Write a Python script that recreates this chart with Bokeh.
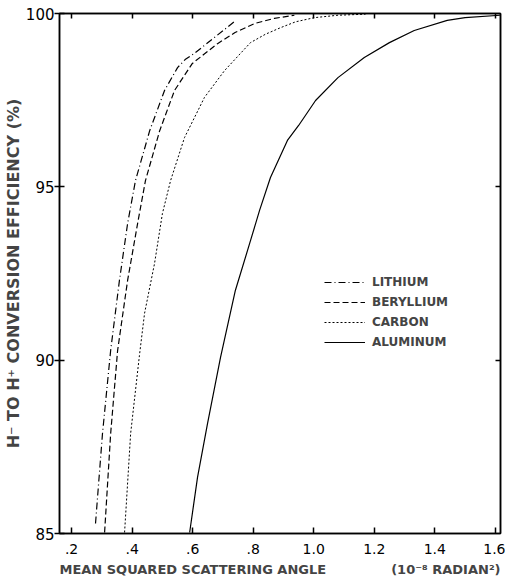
from bokeh.plotting import figure
from bokeh.models import LinearAxis, Range1d, Legend, LegendItem, FixedTicker
from bokeh.embed import file_html
from bokeh.resources import INLINE

# ---- data ----
lithium_x = [0.279, 0.302, 0.329, 0.358, 0.385, 0.411, 0.458, 0.507, 0.550, 0.575, 0.606, 0.672, 0.740]
lithium_y = [85.29, 87.88, 90.28, 92.30, 93.94, 95.18, 96.62, 97.78, 98.44, 98.67, 98.85, 99.31, 99.78]

beryllium_x = [0.309, 0.329, 0.352, 0.385, 0.418, 0.444, 0.491, 0.540, 0.599, 0.682, 0.740, 0.804, 0.870, 0.936]
beryllium_y = [85.03, 87.88, 90.28, 92.30, 93.94, 95.18, 96.62, 97.78, 98.56, 99.13, 99.45, 99.71, 99.86, 99.95]

carbon_x = [0.375, 0.395, 0.424, 0.441, 0.474, 0.500, 0.527, 0.573, 0.639, 0.705, 0.791, 0.840, 0.890, 0.940, 1.002, 1.080, 1.171]
carbon_y = [85.03, 87.88, 90.13, 91.35, 92.79, 94.23, 95.18, 96.42, 97.58, 98.35, 99.16, 99.40, 99.59, 99.76, 99.88, 99.95, 99.98]

aluminum_x = [0.590, 0.616, 0.649, 0.692, 0.741, 0.788, 0.821, 0.857, 0.913, 0.950, 1.006, 1.080, 1.167, 1.250, 1.332, 1.441, 1.500, 1.615]
aluminum_y = [85.03, 86.62, 88.17, 90.08, 92.01, 93.36, 94.32, 95.27, 96.34, 96.77, 97.49, 98.15, 98.73, 99.16, 99.51, 99.80, 99.88, 99.95]

series_names = ["LITHIUM", "BERYLLIUM", "CARBON", "ALUMINUM"]

x_ticks = [0.2, 0.4, 0.6, 0.8, 1.0, 1.2, 1.4, 1.6]
x_tick_labels = [".2", ".4", ".6", ".8", "1.0", "1.2", "1.4", "1.6"]
y_ticks = [85, 90, 95, 100]
y_tick_labels = ["85", "90", "95", "100"]

x_title = ("MEAN SQUARED SCATTERING ANGLE" + "\u2003" * 5
           + "(10\u207b\u2078 RADIAN\u00b2)")
y_title = "H\u207b TO H\u207a CONVERSION EFFICIENCY (%)"

FONT = "DejaVu Sans"

p = figure(frame_width=441, frame_height=520,
           x_range=Range1d(0.16, 1.617), y_range=Range1d(85, 100),
           output_backend="svg", toolbar_location=None,
           min_border_left=54, min_border_right=5, min_border_top=13, min_border_bottom=46)
p.grid.visible = False
p.outline_line_color = "black"
p.outline_line_width = 1.5
p.background_fill_color = "white"
p.border_fill_color = "white"

# bottom axis
xa = p.xaxis[0]
xa.ticker = FixedTicker(ticks=x_ticks)
xa.major_label_overrides = {t: s for t, s in zip(x_ticks, x_tick_labels)}
xa.major_tick_in = 6
xa.major_tick_out = 0
xa.minor_tick_line_color = None
xa.axis_line_width = 1.5
xa.major_tick_line_width = 1.5
xa.major_label_standoff = 10
xa.major_label_text_font = FONT
xa.major_label_text_font_size = "14px"
xa.major_label_text_color = "black"
xa.axis_label = x_title
xa.axis_label_text_font = FONT
xa.axis_label_text_font_size = "13px"
xa.axis_label_text_font_style = "bold"
xa.axis_label_standoff = 5

# left axis
ya = p.yaxis[0]
ya.ticker = FixedTicker(ticks=y_ticks)
ya.major_label_overrides = {t: s for t, s in zip(y_ticks, y_tick_labels)}
ya.major_tick_in = 5
ya.major_tick_out = 5
ya.minor_tick_line_color = None
ya.axis_line_width = 1.5
ya.major_tick_line_width = 1.5
ya.major_label_standoff = 0
ya.major_label_text_font = FONT
ya.major_label_text_font_size = "15px"
ya.major_label_text_color = "black"
ya.axis_label = y_title
ya.axis_label_text_font = FONT
ya.axis_label_text_font_size = "16px"
ya.axis_label_text_font_style = "bold"
ya.axis_label_standoff = 0

# top and right axes (ticks only, labels not drawn)
top = LinearAxis(ticker=FixedTicker(ticks=x_ticks), major_tick_in=5, major_tick_out=0,
                 minor_tick_line_color=None, axis_line_width=1.5, major_tick_line_width=1.5,
                 major_label_text_font_size="1px", major_label_text_color=None,
                 major_label_standoff=0)
right = LinearAxis(ticker=FixedTicker(ticks=y_ticks[1:3]), major_tick_in=5, major_tick_out=0,
                   minor_tick_line_color=None, axis_line_width=1.5, major_tick_line_width=1.5,
                   major_label_text_font_size="1px", major_label_text_color=None,
                   major_label_standoff=0)
p.add_layout(top, "above")
p.add_layout(right, "right")

r1 = p.line(lithium_x, lithium_y, line_color="black", line_width=1.2, line_dash="7 3 1 3")
r2 = p.line(beryllium_x, beryllium_y, line_color="black", line_width=1.2, line_dash="6 3")
r3 = p.line(carbon_x, carbon_y, line_color="black", line_width=1.0, line_dash="2 2")
r4 = p.line(aluminum_x, aluminum_y, line_color="black", line_width=1.2)

legend = Legend(items=[LegendItem(label=n, renderers=[r]) for n, r in zip(series_names, [r1, r2, r3, r4])],
                location=(265, 181), border_line_color=None, background_fill_alpha=0,
                label_text_font=FONT, label_text_font_style="bold", label_text_font_size="12px",
                glyph_width=41, glyph_height=20, label_height=20, spacing=0, padding=0, margin=0,
                label_standoff=7)
p.add_layout(legend)

open("out.html", "w").write(file_html(p, INLINE))
